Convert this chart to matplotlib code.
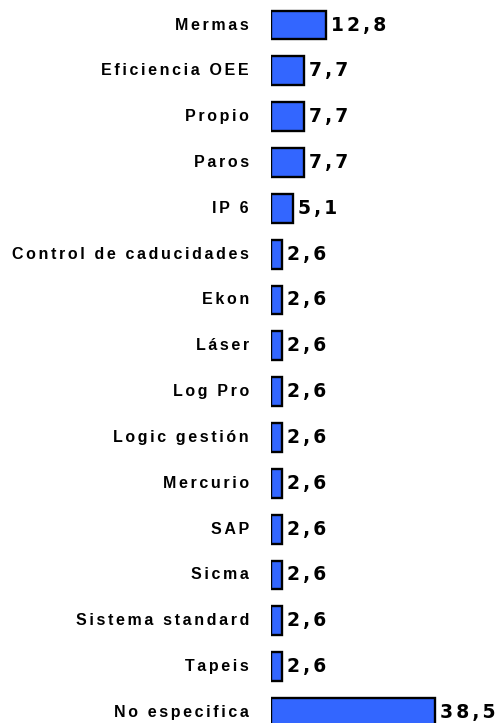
import matplotlib
matplotlib.use("Agg")
import matplotlib.pyplot as plt

# categories (top to bottom) and their percentages
categories = ["Mermas", "Eficiencia OEE", "Propio", "Paros", "IP 6",
              "Control de caducidades", "Ekon", "Láser", "Log Pro",
              "Logic gestión", "Mercurio", "SAP", "Sicma",
              "Sistema standard", "Tapeis", "No especifica"]
values = [12.8, 7.7, 7.7, 7.7, 5.1, 2.6, 2.6, 2.6, 2.6, 2.6, 2.6, 2.6,
          2.6, 2.6, 2.6, 38.5]
value_labels = ["12,8", "7,7", "7,7", "7,7", "5,1", "2,6", "2,6", "2,6",
                "2,6", "2,6", "2,6", "2,6", "2,6", "2,6", "2,6", "38,5"]

W, H = 498, 723
fig = plt.figure(figsize=(W / 100, H / 100), dpi=100)
fig.patch.set_facecolor("white")

# axes spans from the bar baseline to the right edge, full height
ax = fig.add_axes([271 / W, 0, 1 - 271 / W, 1])
ax.set_facecolor("white")

step = 45.83   # px between rows
top = 25.0     # px centre of first row
ax.set_xlim(0, (W - 271) / 4.26)
ax.set_ylim((H - top) / step, -top / step)

ypos = list(range(len(categories)))
ax.barh(ypos, values, height=0.63, color="#3366FF", edgecolor="black",
        linewidth=1.7)


def spaced(s, sep="\u2006"):
    # the original uses wide letter spacing
    return sep.join(s)


for y, name, v, lab in zip(ypos, categories, values, value_labels):
    ax.annotate(spaced(name), xy=(0, y), xytext=(-22, 0),
                textcoords="offset pixels", ha="right", va="center",
                fontsize=11.5, fontweight="bold",
                family=["Liberation Sans", "DejaVu Sans"])
    ax.annotate(spaced(lab), xy=(v, y), xytext=(5, 0),
                textcoords="offset pixels", ha="left", va="center",
                fontsize=13.5, fontweight="bold", family=["DejaVu Sans"])

ax.axis("off")

fig.savefig("out.png", dpi=100, facecolor="white")
